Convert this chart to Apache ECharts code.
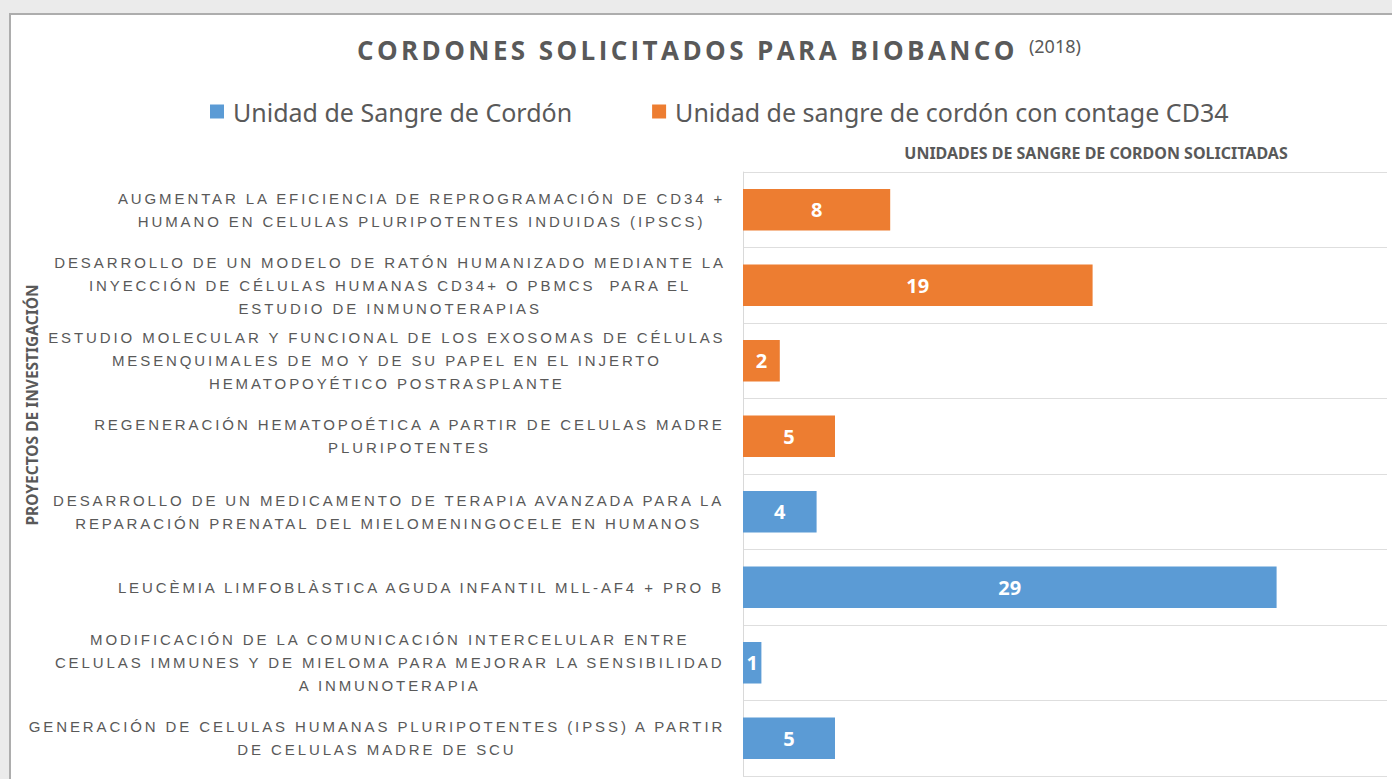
<!DOCTYPE html>
<html><head><meta charset="utf-8">
<script src="https://cdn.jsdelivr.net/npm/echarts@6/dist/echarts.min.js"></script>
<style>
html,body{margin:0;padding:0;width:1392px;height:779px;overflow:hidden;background:#ebebeb;}
#frame{position:absolute;left:9px;top:13px;right:0;bottom:0;background:#fff;border-top:2px solid #adadad;border-left:2px solid #adadad;}
#chart{position:absolute;left:0;top:0;width:1392px;height:779px;}
</style></head><body>
<div id="frame"></div><div id="chart"></div>
<script>
// ---- data ----
const titleText = 'CORDONES SOLICITADOS PARA BIOBANCO';
const titleYear = '(2018)';
const seriesNames = ['Unidad de Sangre de Cordón', 'Unidad de sangre de cordón con contage CD34'];
const xAxisName = 'UNIDADES DE SANGRE DE CORDON SOLICITADAS';
const yAxisName = 'PROYECTOS DE INVESTIGACIÓN';
const categories = [
  'AUGMENTAR LA EFICIENCIA DE REPROGRAMACIÓN DE CD34 +\nHUMANO EN CELULAS PLURIPOTENTES INDUIDAS (IPSCS)',
  'DESARROLLO DE UN MODELO DE RATÓN HUMANIZADO MEDIANTE LA\nINYECCIÓN DE CÉLULAS HUMANAS CD34+ O PBMCS  PARA EL\nESTUDIO DE INMUNOTERAPIAS',
  'ESTUDIO MOLECULAR Y FUNCIONAL DE LOS EXOSOMAS DE CÉLULAS\nMESENQUIMALES DE MO Y DE SU PAPEL EN EL INJERTO\nHEMATOPOYÉTICO POSTRASPLANTE',
  'REGENERACIÓN HEMATOPOÉTICA A PARTIR DE CELULAS MADRE\nPLURIPOTENTES',
  'DESARROLLO DE UN MEDICAMENTO DE TERAPIA AVANZADA PARA LA\nREPARACIÓN PRENATAL DEL MIELOMENINGOCELE EN HUMANOS',
  'LEUCÈMIA LIMFOBLÀSTICA AGUDA INFANTIL MLL-AF4 + PRO B',
  'MODIFICACIÓN DE LA COMUNICACIÓN INTERCELULAR ENTRE\nCELULAS IMMUNES Y DE MIELOMA PARA MEJORAR LA SENSIBILIDAD\nA INMUNOTERAPIA',
  'GENERACIÓN DE CELULAS HUMANAS PLURIPOTENTES (IPSS) A PARTIR\nDE CELULAS MADRE DE SCU'
];
const blueValues   = [null, null, null, null, 4, 29, 1, 5];
const orangeValues = [8, 19, 2, 5, null, null, null, null];

// ---- letter spacing support (SVG renderer + matching measurement) ----
const LS_LABEL = 2.9, LS_TITLE = 3.4;
const css = document.createElement('style');
css.textContent = '#chart text[style*="Liberation Sans"]{letter-spacing:' + LS_LABEL + 'px;}' +
                  '#chart text[style*="Open Sans"]{letter-spacing:' + LS_TITLE + 'px;}';
document.head.appendChild(css);
const mctx = document.createElement('canvas').getContext('2d');
if (echarts.setPlatformAPI) {
  echarts.setPlatformAPI({
    measureText: function (text, font) {
      mctx.font = font || '12px sans-serif';
      const m = mctx.measureText(text);
      let extra = 0;
      if (font && font.indexOf('Liberation Sans') >= 0) extra = text.length * LS_LABEL;
      else if (font && font.indexOf('Open Sans') >= 0) extra = text.length * LS_TITLE;
      return {
        width: m.width + extra,
        actualBoundingBoxAscent: m.actualBoundingBoxAscent,
        actualBoundingBoxDescent: m.actualBoundingBoxDescent,
        actualBoundingBoxLeft: m.actualBoundingBoxLeft,
        actualBoundingBoxRight: m.actualBoundingBoxRight + extra,
        fontBoundingBoxAscent: m.fontBoundingBoxAscent,
        fontBoundingBoxDescent: m.fontBoundingBoxDescent
      };
    }
  });
}

const chart = echarts.init(document.getElementById('chart'), null, { renderer: 'svg' });
const GRAY = '#595959';
const barLabel = { show: true, position: 'inside', color: '#fff', fontFamily: 'Noto Sans', fontWeight: 'bold', fontSize: 20, textBorderWidth: 0 };
chart.setOption({
  animation: false,
  backgroundColor: 'transparent',
  title: {
    left: 352, top: 28,
    text: '{a|' + titleText + '} {b|' + titleYear + '}',
    textStyle: {
      rich: {
        a: { fontFamily: 'Open Sans', fontWeight: 'bold', fontSize: 26, color: GRAY, lineHeight: 34 },
        b: { fontFamily: 'Noto Sans', fontWeight: 'normal', fontSize: 18, color: GRAY, lineHeight: 34, padding: [0, 0, 8, 6] }
      }
    }
  },
  legend: {
    left: 205, top: 94, itemWidth: 14, itemHeight: 14, itemGap: 80, icon: 'rect',
    textStyle: { fontFamily: 'Noto Sans', fontSize: 25, color: GRAY, padding: [0, 0, 0, 4] },
    data: seriesNames
  },
  grid: { left: 743, right: 5, top: 172, bottom: 3 },
  xAxis: {
    type: 'value', min: 0, max: 35, position: 'top',
    axisLabel: { show: false }, axisLine: { show: false }, axisTick: { show: false }, splitLine: { show: false },
    name: xAxisName, nameLocation: 'middle', nameGap: 11,
    nameTextStyle: { fontFamily: 'Noto Sans', fontWeight: 'bold', fontSize: 16, color: GRAY, padding: [0, 0, 0, 62] }
  },
  yAxis: {
    type: 'category', inverse: true, data: categories,
    axisLine: { show: true, lineStyle: { color: '#d9d9d9' } },
    axisTick: { show: false },
    splitLine: { show: true, lineStyle: { color: '#dedede' } },
    axisLabel: {
      interval: 0, margin: 17, fontFamily: 'Liberation Sans', fontSize: 15, color: GRAY, lineHeight: 23,
      formatter: function (v) { return v.split('\n').map(function (l) { return '{c|' + l + '}'; }).join('\n'); },
      rich: { c: { align: 'center', fontFamily: 'Liberation Sans', fontSize: 15, color: GRAY, lineHeight: 23 } }
    }
  },
  graphic: [{
    type: 'text', x: 32, y: 405, rotation: Math.PI / 2,
    style: { text: yAxisName, fontFamily: 'Noto Sans', fontWeight: 'bold', fontSize: 15.5, fill: GRAY,
             align: 'center', verticalAlign: 'middle', textAlign: 'center', textVerticalAlign: 'middle' }
  }],
  series: [
    { name: seriesNames[0], type: 'bar', stack: 'total', data: blueValues, barWidth: '55%',
      itemStyle: { color: '#5b9bd5' }, label: barLabel },
    { name: seriesNames[1], type: 'bar', stack: 'total', data: orangeValues, barWidth: '55%',
      itemStyle: { color: '#ed7d31' }, label: barLabel }
  ]
});
</script>
</body></html>
